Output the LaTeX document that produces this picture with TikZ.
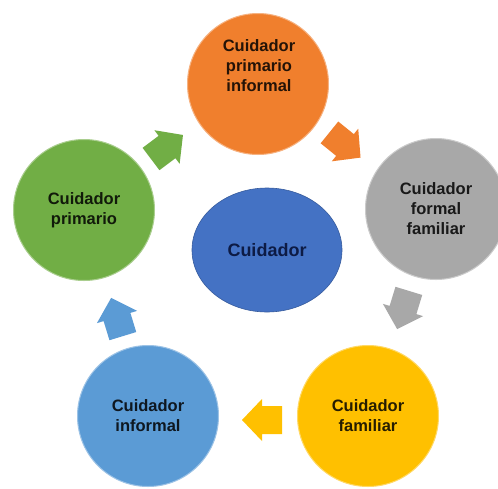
\documentclass[tikz,border=0pt]{standalone}
\usepackage{fontspec}
\setmainfont{Liberation Sans}
\usetikzlibrary{shapes.geometric}
\definecolor{cOrange}{HTML}{F07F2D}
\definecolor{cGray}{HTML}{A8A8A8}
\definecolor{cYellow}{HTML}{FFC000}
\definecolor{cLBlue}{HTML}{5B9BD5}
\definecolor{cGreen}{HTML}{71AE45}
\definecolor{cBlue}{HTML}{4472C4}
\definecolor{cNavy}{HTML}{0D1B45}
\tikzset{
  ball/.style={circle, fill=#1, draw=#1!60!white, line width=1pt,
    minimum size=141pt, inner sep=0pt, align=center,
    font=\bfseries\fontsize{16.5}{20}\selectfont, text=#1!15!black},
  lbl/.style={align=center, font=\bfseries\fontsize{16.5}{20}\selectfont, text=#1!15!black},
  hub/.style={ellipse, fill=cBlue, draw=cBlue!80!black, line width=0.6pt,
    minimum width=150pt, minimum height=124pt, inner sep=0pt,
    font=\bfseries\fontsize{18}{21}\selectfont, text=cNavy},
  blockarrow/.style={fill=#1}
}
\newcommand{\blkarrow}[3]{%
  \fill[blockarrow=#1, shift={(#2)}, rotate=#3]
    (-20,-14) -- (0,-14) -- (0,-21) -- (20,0) -- (0,21) -- (0,14) -- (-20,14) -- cycle;}
\begin{document}
\begin{tikzpicture}[x=1pt, y=-1pt]
  \clip (0,0) rectangle (498,488);
  \fill[white] (0,0) rectangle (498,488);
  % circles
  \node[ball=cOrange] (orange) at (258,84) {};
  \node[lbl=cOrange] (orangetxt) at (259,66) {Cuidador\\primario\\informal};
  \node[ball=cGray] (gray) at (436,209) {Cuidador\\formal\\familiar};
  \node[ball=cYellow] (yellow) at (368,416) {Cuidador\\familiar};
  \node[ball=cLBlue] (lblue) at (148,416) {Cuidador\\informal};
  \node[ball=cGreen] (green) at (84,210) {Cuidador\\primario};
  \node[hub] (hub) at (267,250) {Cuidador};
  % arrows
  \coordinate (a1) at (167,147);
  \coordinate (a2) at (345,145);
  \coordinate (a3) at (403,310);
  \coordinate (a4) at (262,420);
  \coordinate (a5) at (117,317);
  \blkarrow{cGreen}{a1}{37}
  \blkarrow{cOrange}{a2}{-39}
  \blkarrow{cGray}{a3}{-107}
  \blkarrow{cYellow}{a4}{180}
  \blkarrow{cLBlue}{a5}{107}
\end{tikzpicture}
\end{document}
